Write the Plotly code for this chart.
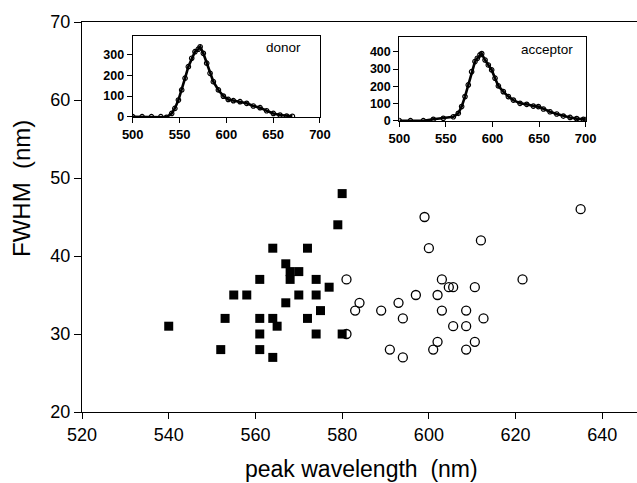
import plotly.graph_objects as go

# Main scatter: donor (filled squares) and acceptor (open circles)
donor_peak = [540, 552, 553, 555, 558, 561, 561, 561, 561, 564, 564, 564, 565, 567, 567,
              568, 568, 570, 570, 572, 572, 574, 574, 574, 575, 577, 579, 580, 580]
donor_fwhm = [31, 28, 32, 35, 35, 37, 32, 30, 28, 41, 32, 27, 31, 39, 34,
              38, 37, 38, 35, 41, 32, 37, 35, 30, 33, 36, 44, 48, 30]

acc_peak = [581, 581, 583, 584, 589, 591, 593, 594, 594, 597, 599, 600, 601, 602, 602,
            603, 603, 604.6, 605.6, 605.6, 608.6, 608.6, 608.6, 610.6, 610.6, 612, 612.6, 621.6, 635]
acc_fwhm = [37, 30, 33, 34, 33, 28, 34, 32, 27, 35, 45, 41, 28, 35, 29,
            37, 33, 36, 36, 31, 33, 31, 28, 36, 29, 42, 32, 37, 46]

# Inset spectra
don_wl = [500, 510, 520, 530, 536, 541.6, 545, 548.8, 552.3, 555.9, 559.4, 563, 566.5, 570,
          572, 575.4, 579, 582.6, 586.1, 591.5, 596.8, 602, 607.5, 614.6, 621.7, 628.8,
          636, 643, 650.2, 657.3, 664.4, 670.5]
don_int = [0, 0, 0, 0, -3, 16, 40, 81, 130, 187, 243, 284, 316, 328,
           340, 308, 260, 211, 170, 130, 100, 84, 78, 73, 65, 52,
           44, 29, 16, 8, 3, 2]

acc_wl = [500, 512, 525.8, 536.5, 547.2, 558, 563.3, 566.9, 570.5, 574, 577.6, 581.2, 583.7,
          586.6, 588.4, 592, 595.5, 599.1, 602.7, 606.3, 611.6, 617, 622.4, 629.5, 636.7,
          643.8, 649.2, 654.6, 661.7, 668.9, 676, 683.2, 690.3, 697.5, 700]
acc_int = [0, 0, 0, 8, 14, 23, 43, 82, 140, 208, 285, 344, 363,
           383, 390, 353, 324, 295, 247, 202, 169, 140, 120, 101, 95,
           85, 82, 68, 52, 39, 27, 19, 12, 8, 6]

FONT = "Liberation Sans, Arial, sans-serif"

fig = go.Figure()
fig.add_trace(go.Scatter(x=donor_peak, y=donor_fwhm, mode="markers",
                         marker=dict(symbol="square", size=9, color="black",
                                     line=dict(width=0)),
                         xaxis="x", yaxis="y", showlegend=False))
fig.add_trace(go.Scatter(x=acc_peak, y=acc_fwhm, mode="markers",
                         marker=dict(symbol="circle-open", size=9, color="black",
                                     line=dict(width=1.3)),
                         xaxis="x", yaxis="y", showlegend=False))
fig.add_trace(go.Scatter(x=don_wl, y=don_int, mode="lines+markers",
                         line=dict(color="black", width=2.6),
                         marker=dict(symbol="circle-open", size=4.5, color="black",
                                     line=dict(width=1.2)),
                         xaxis="x2", yaxis="y2", showlegend=False))
fig.add_trace(go.Scatter(x=acc_wl, y=acc_int, mode="lines+markers",
                         line=dict(color="black", width=2.6),
                         marker=dict(symbol="circle-open", size=4.5, color="black",
                                     line=dict(width=1.2)),
                         xaxis="x3", yaxis="y3", showlegend=False))

axis_common = dict(showgrid=False, zeroline=False, showline=True, linecolor="black",
                   linewidth=1, ticks="outside", tickcolor="black", automargin=False)

fig.update_layout(
    width=637, height=483, autosize=False,
    margin=dict(l=82, r=0, t=22, b=71, autoexpand=False),
    paper_bgcolor="white", plot_bgcolor="white",
    font=dict(family=FONT, color="black"),
    xaxis=dict(axis_common, range=[520, 648], tickvals=[520, 540, 560, 580, 600, 620, 640],
               ticklen=6, mirror=True, tickfont=dict(size=18), domain=[0, 1]),
    yaxis=dict(axis_common, range=[20, 70], tickvals=[20, 30, 40, 50, 60, 70],
               ticklen=7, tickfont=dict(size=18)),
    xaxis2=dict(axis_common, range=[500, 700], tickvals=[500, 550, 600, 650, 700],
                ticklen=5, mirror=True, anchor="y2", domain=[0.0914, 0.4288],
                tickfont=dict(size=13, family="Liberation Sans", weight="bold")),
    yaxis2=dict(axis_common, range=[-3, 392], tickvals=[0, 100, 200, 300],
                ticklen=5, mirror=True, anchor="x2", domain=[0.7556, 0.964],
                tickfont=dict(size=12.5, family="Liberation Sans", weight="bold")),
    xaxis3=dict(axis_common, range=[500, 700], tickvals=[500, 550, 600, 650, 700],
                ticklen=5, mirror=True, anchor="y3", domain=[0.5717, 0.9076],
                tickfont=dict(size=13, family="Liberation Sans", weight="bold")),
    yaxis3=dict(axis_common, range=[-3.5, 485], tickvals=[0, 100, 200, 300, 400],
                ticklen=5, mirror=True, anchor="x3", domain=[0.7454, 0.9608],
                tickfont=dict(size=12.5, family="Liberation Sans", weight="bold")),
    annotations=[
        dict(text="FWHM&nbsp; (nm)", xref="paper", yref="paper", x=-0.108, y=0.572,
             xanchor="center", yanchor="middle", textangle=-90, showarrow=False,
             font=dict(size=24)),
        dict(text="peak wavelength&nbsp; (nm)", xref="paper", yref="paper", x=0.503, y=-0.145,
             xanchor="center", yanchor="middle", showarrow=False, font=dict(size=23)),
        dict(text="donor", xref="x2 domain", yref="y2 domain", x=0.91, y=0.86,
             xanchor="right", yanchor="middle", showarrow=False, font=dict(size=13.5)),
        dict(text="acceptor", xref="x3 domain", yref="y3 domain", x=0.945, y=0.86,
             xanchor="right", yanchor="middle", showarrow=False, font=dict(size=13.5)),
    ],
)

post = ("document.body.style.margin='0';document.body.style.padding='0';"
        "document.body.style.overflow='hidden';"
        "document.documentElement.style.overflow='hidden';")

fig.write_html("out.html", config={"responsive": False, "displayModeBar": False},
               post_script=post)
